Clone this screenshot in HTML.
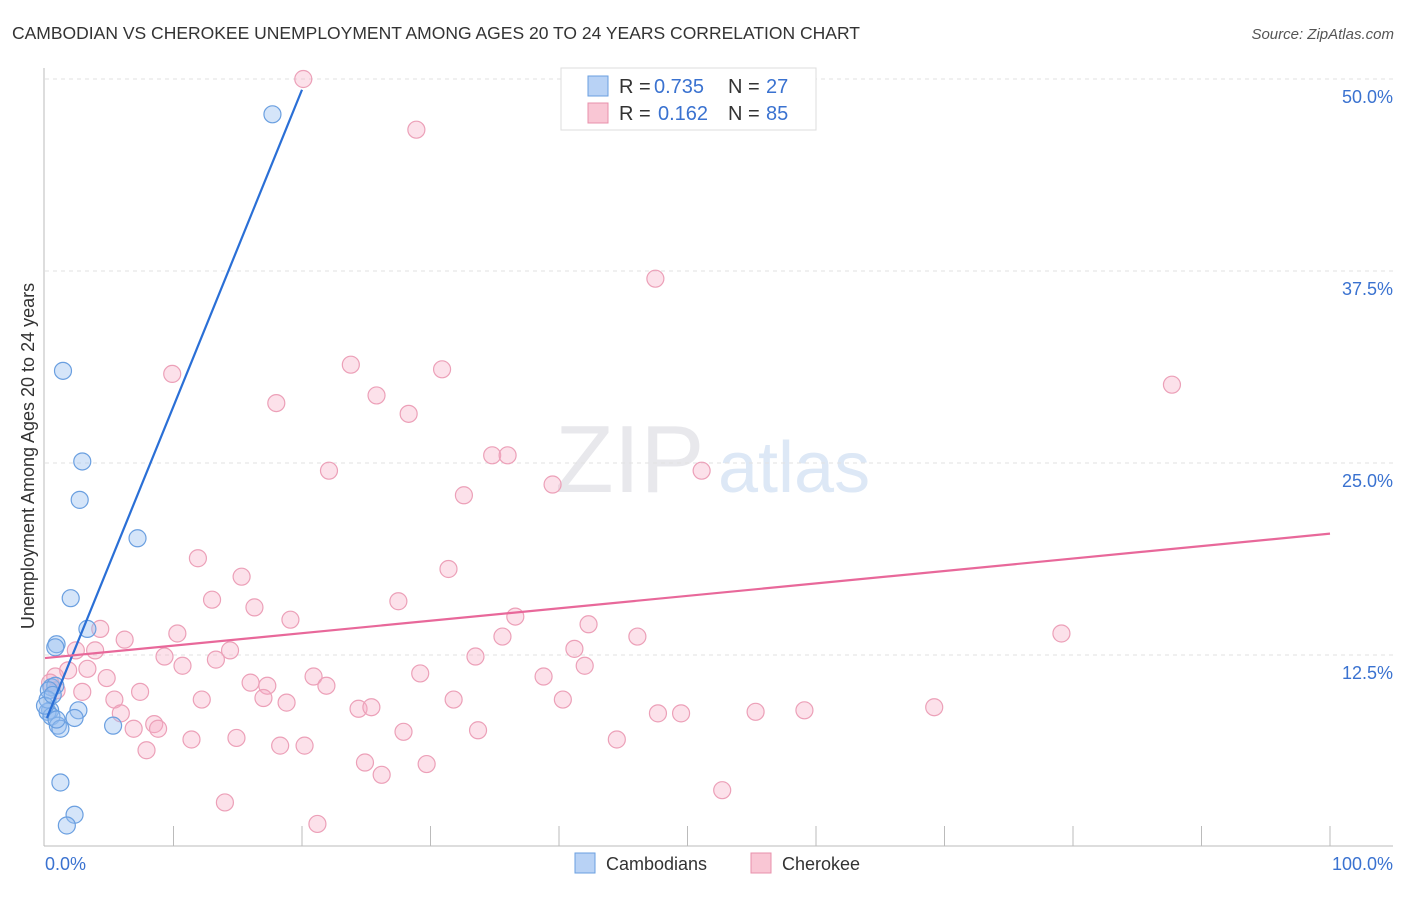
<!DOCTYPE html>
<html><head><meta charset="utf-8"><style>
body{margin:0;background:#fff;font-family:"Liberation Sans",sans-serif;}
svg text{font-family:"Liberation Sans",sans-serif;}
</style></head><body>
<svg id="chart" width="1406" height="892" xmlns="http://www.w3.org/2000/svg">
<text x="12" y="39" font-size="17.5" fill="#333">CAMBODIAN VS CHEROKEE UNEMPLOYMENT AMONG AGES 20 TO 24 YEARS CORRELATION CHART</text>
<text x="1394" y="39" font-size="15" fill="#555" font-style="italic" text-anchor="end">Source: ZipAtlas.com</text>
<text x="555" y="492" font-size="96" fill="#e8e8ec" font-family="Liberation Serif">ZIP</text>
<text x="718" y="492" font-size="72" fill="#dde8f6">atlas</text>
<g id="grid"></g>
<g id="axes"></g>
<g id="marks"></g>
<text transform="translate(34,456) rotate(-90)" font-size="18" fill="#333" text-anchor="middle">Unemployment Among Ages 20 to 24 years</text>
<g>
<rect x="561" y="68" width="255" height="62" fill="#fff" stroke="#ddd"/>
<rect x="588" y="76" width="20" height="20" fill="#b8d2f5" stroke="#6a9fe0"/>
<rect x="588" y="103" width="20" height="20" fill="#f9c6d4" stroke="#e890ab"/>
<text x="619" y="93" font-size="20" fill="#333">R =</text>
<text x="654" y="93" font-size="20" fill="#3a72d0">0.735</text>
<text x="728" y="93" font-size="20" fill="#333">N =</text>
<text x="766" y="93" font-size="20" fill="#3a72d0">27</text>
<text x="619" y="120" font-size="20" fill="#333">R =</text>
<text x="658" y="120" font-size="20" fill="#3a72d0">0.162</text>
<text x="728" y="120" font-size="20" fill="#333">N =</text>
<text x="766" y="120" font-size="20" fill="#3a72d0">85</text>
</g>
<g>
<rect x="575" y="853" width="20" height="20" fill="#b8d2f5" stroke="#6a9fe0"/>
<text x="606" y="870" font-size="18" fill="#333">Cambodians</text>
<rect x="751" y="853" width="20" height="20" fill="#f9c6d4" stroke="#e890ab"/>
<text x="782" y="870" font-size="18" fill="#333">Cherokee</text>
</g>
</svg>
<script>
const yTicks=[12.5,25,37.5,50];
const yTickLabels=["12.5%","25.0%","37.5%","50.0%"];
const camX=[17.7,1.4,2.9,2.7,7.2,2.0,3.3,0.9,0.8,0.5,0.8,0.3,0.4,0.2,2.6,0.5,2.3,1.0,1.2,5.3,1.2,2.3,1.7,0.2,0.9,0.0,0.6];
const camY=[47.7,31.0,25.1,22.6,20.1,16.2,14.2,13.2,13.0,10.4,10.5,10.2,8.9,8.8,8.9,8.5,8.4,7.9,7.7,7.9,4.2,2.1,1.4,9.6,8.3,9.2,9.9];
const cherPx=[[303,79],[416,129],[656,278],[172,374],[351,364],[442,370],[1172,384],[276,403],[376,396],[409,414],[329,471],[492,456],[508,455],[701,470],[553,484],[464,496],[198,558],[448,569],[242,577],[212,599],[398,601],[254,608],[291,620],[515,616],[588,624],[100,629],[177,634],[125,639],[502,636],[637,636],[1061,634],[76,650],[95,650],[230,651],[575,649],[165,657],[216,659],[476,656],[182,665],[585,665],[88,669],[68,670],[55,677],[107,678],[314,676],[420,673],[544,676],[251,682],[267,685],[327,685],[82,692],[140,692],[114,700],[202,700],[263,698],[287,702],[454,700],[563,700],[358,709],[372,707],[658,713],[681,714],[756,712],[804,711],[934,707],[121,713],[154,724],[158,728],[134,729],[403,732],[478,731],[191,739],[236,738],[280,746],[305,745],[617,740],[146,751],[365,762],[427,764],[382,775],[722,790],[225,803],[317,824],[50,683],[57,690]];
const cherX=cherPx.map(p=>+((p[0]-45)/12.85).toFixed(1));
const cherY=cherPx.map(p=>+((847-p[1])/15.36).toFixed(1));
const camTrend=[[0.15,8.4],[20,49.3]];
const cherTrend=[[0,12.3],[100,20.4]];
const NS='http://www.w3.org/2000/svg';
const X=v=>45+v*12.85, Y=v=>847-v*15.36;
function mk(tag,attrs,parent){const e=document.createElementNS(NS,tag);for(const k in attrs)e.setAttribute(k,attrs[k]);parent.appendChild(e);return e;}
const grid=document.getElementById('grid'),axes=document.getElementById('axes'),marks=document.getElementById('marks');
yTicks.forEach((t,i)=>{
 const l=mk('line',{x1:45,x2:1393,y1:Y(t),y2:Y(t),stroke:'#e2e2e2','stroke-dasharray':'4,4'},grid);
 
 
 const tx=mk('text',{x:1393,y:Y(t)+24,'font-size':18,fill:'#3a72d0','text-anchor':'end'},axes);
 tx.textContent=yTickLabels[i];
 
 
});
const ax=mk('line',{x1:44,x2:44,y1:68,y2:846,stroke:'#bbb'},axes);


const bx=mk('line',{x1:44,x2:1393,y1:846,y2:846,stroke:'#bbb'},axes);


for(let i=1;i<=10;i++){const t=mk('line',{x1:X(i*10),x2:X(i*10),y1:826,y2:846,stroke:'#bbb'},axes);
 
 }
[['0.0%',45,'start'],['100.0%',1393,'end']].forEach(d=>{const t=mk('text',{x:d[1],y:870,'font-size':18,fill:'#3a72d0','text-anchor':d[2]},axes);t.textContent=d[0];
 
 });
cherX.forEach((v,i)=>{const c=mk('circle',{cx:X(v),cy:Y(cherY[i]),r:8.5,fill:'rgba(246,170,195,0.35)',stroke:'#eca0b8','stroke-width':1.2},marks);
 
 });
camX.forEach((v,i)=>{const c=mk('circle',{cx:X(v),cy:Y(camY[i]),r:8.5,fill:'rgba(150,190,240,0.4)',stroke:'#6a9fe0','stroke-width':1.2},marks);
 
 });
const tl1=mk('line',{x1:X(camTrend[0][0]),y1:Y(camTrend[0][1]),x2:X(camTrend[1][0]),y2:Y(camTrend[1][1]),stroke:'#2a6fd6','stroke-width':2.2},marks);


const tl2=mk('line',{x1:X(cherTrend[0][0]),y1:Y(cherTrend[0][1]),x2:X(cherTrend[1][0]),y2:Y(cherTrend[1][1]),stroke:'#e8689a','stroke-width':2.2},marks);


</script>
</body></html>
